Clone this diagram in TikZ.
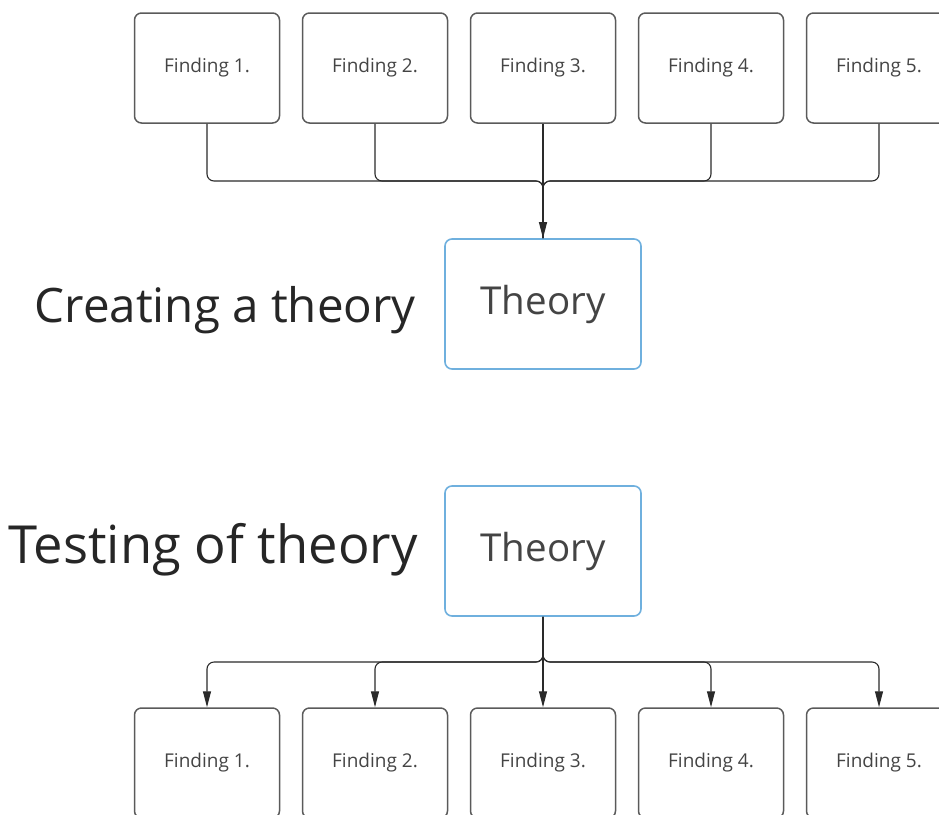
\documentclass[tikz,border=0pt]{standalone}
\usepackage{fontspec}
\setmainfont{Open Sans}
\usetikzlibrary{arrows.meta}
\definecolor{boxgray}{HTML}{5A5A5A}
\definecolor{txtgray}{HTML}{444444}
\definecolor{theoryblue}{HTML}{6FB0DE}
\definecolor{linecol}{HTML}{2A2A2A}
\tikzset{
  finding/.style={draw=boxgray, line width=1.5pt, rounded corners=7pt, minimum width=145pt, minimum height=110pt, inner sep=0pt, text=txtgray, font=\fontsize{19}{22}\selectfont},
  theorybox/.style={draw=theoryblue, line width=1.6pt, rounded corners=7pt, minimum width=196pt, minimum height=130pt, inner sep=0pt, text=txtgray, font=\fontsize{38.5}{44}\selectfont},
  biglabel/.style={anchor=base east, inner sep=0pt, text=black!85, font=\fontsize{47.5}{54}\selectfont},
  conn/.style={draw=linecol, line width=1.1pt, rounded corners=7pt},
  arr/.style={conn, -{Triangle[width=8pt,length=16pt]}}
}
\begin{document}
\begin{tikzpicture}[x=1pt,y=-1pt]
\useasboundingbox (0,0) rectangle (939,814);
\clip (0,0) rectangle (939,814);
% top findings
\foreach \i/\x in {1/207,2/375,3/543,4/711,5/879}{
  \node[finding] (t\i) at (\x,68) {Finding \i.};
}
\node[theorybox] (th1) at (543,304) {Theory};
\node[biglabel] (lab1) at (416,322) {Creating a theory};
\coordinate (j1) at (543,181);
\foreach \i in {1,2,4,5}{
  \draw[conn] (t\i.south) |- (j1) -- (th1.north);
}
\draw[arr] (t3.south) -- (th1.north);
% bottom part
\node[theorybox] (th2) at (543,551) {Theory};
\node[biglabel, font=\fontsize{52.5}{60}\selectfont] (lab2) at (418,563) {Testing of theory};
\foreach \i/\x in {1/207,2/375,3/543,4/711,5/879}{
  \node[finding] (b\i) at (\x,763) {Finding \i.};
}
\coordinate (j2) at (543,662);
\foreach \i in {1,2,4,5}{
  \draw[arr] (th2.south) -- (j2) -| (b\i.north);
}
\draw[arr] (th2.south) -- (b3.north);
\end{tikzpicture}
\end{document}
